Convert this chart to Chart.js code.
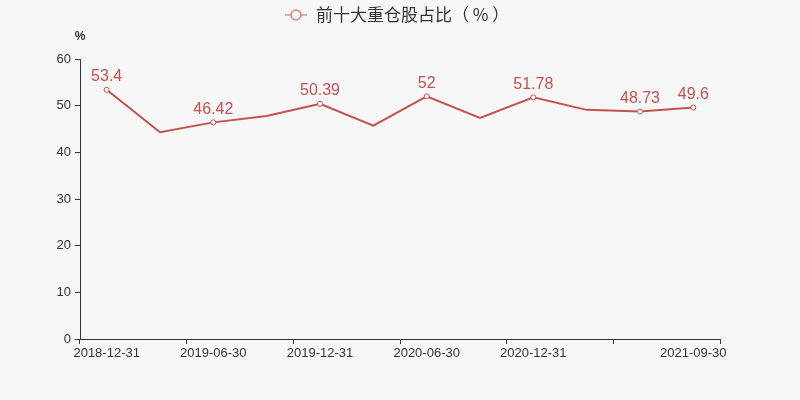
<!DOCTYPE html>
<html>
<head>
<meta charset="utf-8">
<script src="https://cdn.jsdelivr.net/npm/chart.js@4/dist/chart.umd.min.js"></script>
<style>
  html, body { margin: 0; padding: 0; background: #f7f7f7; }
  #wrap { width: 800px; height: 400px; }
</style>
</head>
<body>
<div id="wrap"><canvas id="lineChart"></canvas></div>
<script>
var dates = ["2018-12-31", "2019-03-31", "2019-06-30", "2019-09-30", "2019-12-31", "2020-03-31",
             "2020-06-30", "2020-09-30", "2020-12-31", "2021-03-31", "2021-06-30", "2021-09-30"];
var ratio = [53.4, 44.3, 46.42, 47.8, 50.39, 45.7, 52, 47.35, 51.78, 49.1, 48.73, 49.6];
var shownIdx = [0, 2, 4, 6, 8, 10, 11];      // points with marker + value label
var labelIdx = [0, 2, 4, 6, 8, 11];          // x labels that are printed
var yTicks = [0, 10, 20, 30, 40, 50, 60];
var seriesName = "前十大重仓股占比（ % ）";

var red = "#c4514d";
var textFont = "'Liberation Sans', 'Noto Sans CJK SC', sans-serif";

// legend, unit title and value labels
var extras = {
  id: "extras",
  beforeDraw: function(chart) {
    var ctx = chart.ctx;
    ctx.save();
    ctx.fillStyle = "#f7f7f7";
    ctx.fillRect(0, 0, chart.width, chart.height);
    ctx.restore();
  },
  afterDatasetsDraw: function(chart) {
    var ctx = chart.ctx;
    var meta = chart.getDatasetMeta(0);
    ctx.save();
    ctx.font = "16px " + textFont;
    ctx.fillStyle = red;
    ctx.textAlign = "center";
    ctx.textBaseline = "bottom";
    shownIdx.forEach(function(i) {
      var p = meta.data[i];
      ctx.fillText(String(ratio[i]), p.x, p.y - 5);
    });

    // legend
    ctx.strokeStyle = "#d98a88";
    ctx.lineWidth = 1.5;
    ctx.beginPath();
    ctx.moveTo(285, 15); ctx.lineTo(307, 15);
    ctx.stroke();
    ctx.fillStyle = "#f7f7f7";
    ctx.beginPath();
    ctx.arc(296, 15, 5, 0, Math.PI * 2);
    ctx.fill(); ctx.stroke();
    ctx.fillStyle = "#333";
    ctx.font = "17px 'Noto Sans CJK SC', sans-serif";
    ctx.textAlign = "left";
    ctx.textBaseline = "middle";
    ctx.fillText(seriesName, 316, 15);

    // unit
    ctx.font = "bold 12px " + textFont;
    ctx.textAlign = "center";
    ctx.fillText("%", chart.chartArea.left, 37);
    ctx.restore();
  }
};

var ctxL = document.getElementById("lineChart").getContext("2d");
var myLineChart = new Chart(ctxL, {
  type: "line",
  data: {
    labels: dates,
    datasets: [{
      label: seriesName,
      data: ratio,
      borderColor: red,
      borderWidth: 2,
      tension: 0,
      pointRadius: ratio.map(function(v, i) { return shownIdx.indexOf(i) >= 0 ? 2.5 : 0; }),
      pointBackgroundColor: "#ffffff",
      pointBorderColor: red,
      pointBorderWidth: 1
    }]
  },
  options: {
    responsive: true,
    maintainAspectRatio: false,
    animation: false,
    layout: { padding: { left: 0, right: 80, top: 59, bottom: 0 } },
    plugins: {
      legend: { display: false },
      tooltip: { enabled: false }
    },
    scales: {
      x: {
        offset: true,
        grid: {
          offset: true,
          drawOnChartArea: false,
          tickLength: 5,
          tickColor: function(c) {
            if (c.index === undefined || c.index % 2 === 0) return "#333";
            return "rgba(0,0,0,0)";
          }
        },
        border: { color: "#333", width: 1 },
        ticks: {
          autoSkip: false,
          maxRotation: 0,
          padding: 2,
          color: "#333",
          font: { size: 13, family: textFont },
          callback: function(v, i) { return labelIdx.indexOf(i) >= 0 ? dates[i] : ""; }
        },
        afterFit: function(s) { s.height = 61; }
      },
      y: {
        min: 0,
        max: 60,
        afterBuildTicks: function(s) { s.ticks = yTicks.map(function(v) { return { value: v }; }); },
        grid: { drawOnChartArea: false, tickLength: 5, tickColor: "#333" },
        border: { color: "#333", width: 1 },
        ticks: {
          padding: 4,
          color: "#333",
          font: { size: 13, family: textFont }
        },
        afterFit: function(s) { s.width = 80; }
      }
    }
  },
  plugins: [extras]
});
</script>
</body>
</html>
